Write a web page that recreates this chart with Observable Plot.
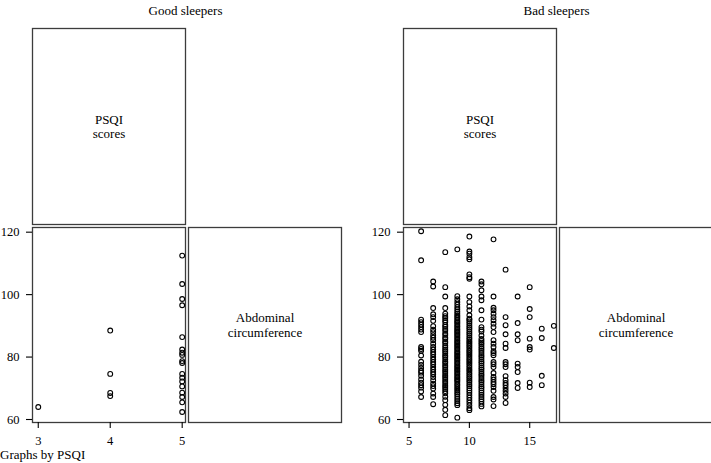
<!DOCTYPE html>
<html><head><meta charset="utf-8">
<script src="https://cdn.jsdelivr.net/npm/d3@7"></script>
<script src="https://cdn.jsdelivr.net/npm/@observablehq/plot@0.6"></script>
<style>
body{margin:0;background:#fff;}
#root{position:relative;width:711px;height:463px;overflow:hidden;background:#fff;font-family:'Liberation Serif',serif;color:#000;}
#root svg{position:absolute;overflow:visible;}
.lbl{position:absolute;font-family:'Liberation Serif',serif;font-size:13px;line-height:13px;white-space:nowrap;}
</style></head><body><div id="root"></div>
<script>
// ---- data ----
const groups = ["Good sleepers", "Bad sleepers"];
const diagTop = "PSQI\nscores";
const diagBottom = "Abdominal\ncircumference";
const caption = "Graphs by PSQI";
const yTicks = [60, 80, 100, 120];
const goodXTicks = [3, 4, 5];
const badXTicks = [5, 10, 15];

// Good sleepers: PSQI score -> abdominal circumference values
const good3 = [64];
const good4 = [88.5, 74.6, 68.5, 67.5];
const good5 = [112.5, 103.4, 98.6, 96.6, 86.4, 82.4, 81.4, 80.7, 78.7, 78.1, 74.6, 73.4, 72.2, 70.6, 68.6, 67.2, 65.5, 62.4];

// Bad sleepers
const bad6 = [120.3, 111, 92, 91.2, 90.4, 89.6, 88.8, 88, 83.2, 82.6, 82, 80.5, 78.5, 77.5, 76.5, 75.6, 75, 74, 72.8, 71.8, 71, 70.2, 69, 67.2];
const bad7 = [104.2, 102.6, 95.7, 93.7, 92.8, 91.6, 89.9, 88.8, 88, 87, 86.2, 85.4, 84.3, 83.2, 82.4, 81.6, 80.9, 80, 79.2, 78.4, 77.7, 76.8, 76, 75.2, 74.5, 73.6, 72.6, 71.5, 70.7, 69.9, 68.3, 67.2, 64.9];
const bad8 = [113.6, 102.4, 99.4, 95.7, 93.9, 93.1, 92.5, 91.8, 91.2, 90.3, 89.7, 89, 88.4, 87.6, 87.1, 86.3, 85.8, 85, 84.5, 83.7, 83.1, 82.4, 81.9, 81.2, 80.5, 80, 79.3, 78.6, 78.1, 77.4, 76.8, 76.1, 75.5, 74.9, 74.2, 73.6, 73, 72.3, 71.7, 71, 70.4, 69.8, 69.1, 68.4, 67.3, 66.2, 64.7, 63.1, 61.4];
const bad9 = [114.5, 99.5, 98.5, 97.6, 96.8, 96, 95.3, 94.6, 94, 93.4, 92.9, 92.4, 91.9, 91.4, 91, 90.5, 90, 89.6, 89.1, 88.7, 88.2, 87.8, 87.3, 86.9, 86.4, 86, 85.5, 85.1, 84.6, 84.2, 83.7, 83.3, 82.8, 82.4, 81.9, 81.5, 81, 80.6, 80.1, 79.7, 79.2, 78.8, 78.3, 77.9, 77.4, 77, 76.5, 76.1, 75.6, 75.2, 74.7, 74.3, 73.8, 73.4, 72.9, 72.5, 72, 71.4, 70.9, 70.3, 69.8, 69.2, 68.6, 68, 67.3, 66.6, 65.9, 65.2, 64.6, 60.6];
const bad10 = [118.6, 113.8, 113.1, 112, 111.3, 106.5, 105.6, 105.1, 99.4, 97.6, 96.2, 95, 93.4, 92.3, 92, 91.4, 90.8, 90.1, 89.5, 88.9, 88.2, 87.6, 87, 86.3, 85.7, 85.1, 84.6, 84, 83.5, 82.9, 82.3, 81.8, 81.2, 80.7, 80.1, 79.5, 79, 78.4, 77.9, 77.3, 76.7, 76.1, 75.6, 75, 74.4, 73.8, 73.2, 72.6, 72, 71.3, 70.7, 70, 69.3, 68.6, 67.8, 67, 66.2, 65.4, 64.5, 63.6, 63];
const bad11 = [104.2, 103.3, 101.4, 99.4, 98.2, 95, 92, 89.6, 88.8, 88.2, 86.9, 85.8, 85.2, 84.6, 84, 83.3, 82.7, 82, 81.3, 80.6, 80, 79.3, 78.6, 78, 77.3, 76.6, 76, 75.3, 74.6, 74, 73.3, 72.6, 72, 71.3, 70.6, 70, 69.3, 68.6, 67.9, 67.2, 66.5, 65.8, 65, 64.2];
const bad12 = [117.7, 99.4, 95.8, 95, 93.9, 92.8, 91.8, 90.7, 89.6, 88, 85.4, 84.3, 83.2, 81.9, 81.3, 80.6, 78.4, 77.7, 76.8, 74.9, 73.6, 72.8, 72, 71.3, 70.4, 69.2, 67.2, 66.4, 64.3];
const bad13 = [108, 92.8, 90.2, 87.3, 84.3, 82.9, 78.4, 77.7, 76.8, 73.9, 72.6, 71.7, 71, 70.1, 69.2, 68.3, 67.2, 65.3];
const bad14 = [99.4, 90.9, 87.3, 85.4, 77.9, 76.8, 75.2, 71.7, 70.1];
const bad15 = [102.4, 95.4, 92.8, 85.9, 83.2, 82.4, 71.8, 70.4];
const bad16 = [89.1, 86.1, 74, 71];
const bad17 = [90, 82.9];

const goodCols = [[3, good3], [4, good4], [5, good5]];
const badCols = [[6, bad6], [7, bad7], [8, bad8], [9, bad9], [10, bad10], [11, bad11], [12, bad12], [13, bad13], [14, bad14], [15, bad15], [16, bad16], [17, bad17]];
const toRows = cols => cols.flatMap(([p, vals]) => vals.map(v => ({psqi: p, abd: v})));
const goodRows = toRows(goodCols);
const badRows = toRows(badCols);

// ---- layout ----
const root = document.getElementById("root");
const FONT = "'Liberation Serif', serif";
const cellW = 153, gap = 3;
const topY = 28, topH = 196, scY = 227, scH = 195;
const frameStroke = "#3c3c3c";

function place(svg, left, top) {
  svg.style.left = left + "px";
  svg.style.top = top + "px";
  root.appendChild(svg);
}

function box(label, left, top, w, h) {
  const m = 1;
  const svg = Plot.plot({
    width: w + 2*m, height: h + 2*m,
    marginLeft: m, marginRight: m, marginTop: m, marginBottom: m,
    x: {domain: [0, 1], axis: null}, y: {domain: [0, 1], axis: null},
    style: {fontFamily: FONT, fontSize: "13px", background: "none", color: "#000"},
    marks: [
      Plot.frame({stroke: frameStroke, strokeWidth: 1.3}),
      Plot.text([label], {frameAnchor: "middle", text: d => d, lineHeight: 1.08, fontSize: 13, fill: "#000"})
    ]
  });
  place(svg, left - m, top - m);
}

function scatter(rows, xDomain, xTicks, left, top, w, h) {
  const mL = 45, mR = 2, mT = 2, mB = 36;
  const svg = Plot.plot({
    width: mL + w + mR, height: mT + h + mB,
    marginLeft: mL, marginRight: mR, marginTop: mT, marginBottom: mB,
    x: {domain: xDomain},
    y: {domain: [59.04, 121.5]},
    style: {fontFamily: FONT, fontSize: "12.5px", background: "none", color: "#000"},
    marks: [
      Plot.frame({stroke: frameStroke, strokeWidth: 1.3}),
      Plot.axisY({ticks: yTicks, tickFormat: d3.format("d"), tickSize: 6, tickPadding: 7, fontSize: 12.5, label: null, stroke: "#000", strokeWidth: 1.1}),
      Plot.axisX({ticks: xTicks, tickFormat: d3.format("d"), tickSize: 6, tickPadding: 8, fontSize: 12.5, label: null, stroke: "#000", strokeWidth: 1.1}),
      Plot.dot(rows, {x: "psqi", y: "abd", r: 2.4, stroke: "#000", strokeWidth: 1.1, fill: "none"})
    ]
  });
  place(svg, left - mL, top - mT);
}

function title(text, cx, top) {
  const d = document.createElement("div");
  d.className = "lbl";
  d.textContent = text;
  d.style.top = top + "px";
  d.style.left = cx + "px";
  d.style.transform = "translateX(-50%)";
  root.appendChild(d);
}

const panels = [
  {x0: 32, rows: goodRows, xDomain: [2.92, 5.046], xTicks: goodXTicks},
  {x0: 403, rows: badRows, xDomain: [4.54, 17.22], xTicks: badXTicks}
];

panels.forEach((p, i) => {
  title(groups[i], p.x0 + cellW + gap / 2 - 1, 4);
  box(diagTop, p.x0, topY, cellW, topH);
  scatter(p.rows, p.xDomain, p.xTicks, p.x0, scY, cellW, scH);
  box(diagBottom, p.x0 + cellW + gap, scY, cellW, scH);
});

const cap = document.createElement("div");
cap.className = "lbl";
cap.textContent = caption;
cap.style.left = "0px";
cap.style.top = "448px";
root.appendChild(cap);
</script>
</body></html>
